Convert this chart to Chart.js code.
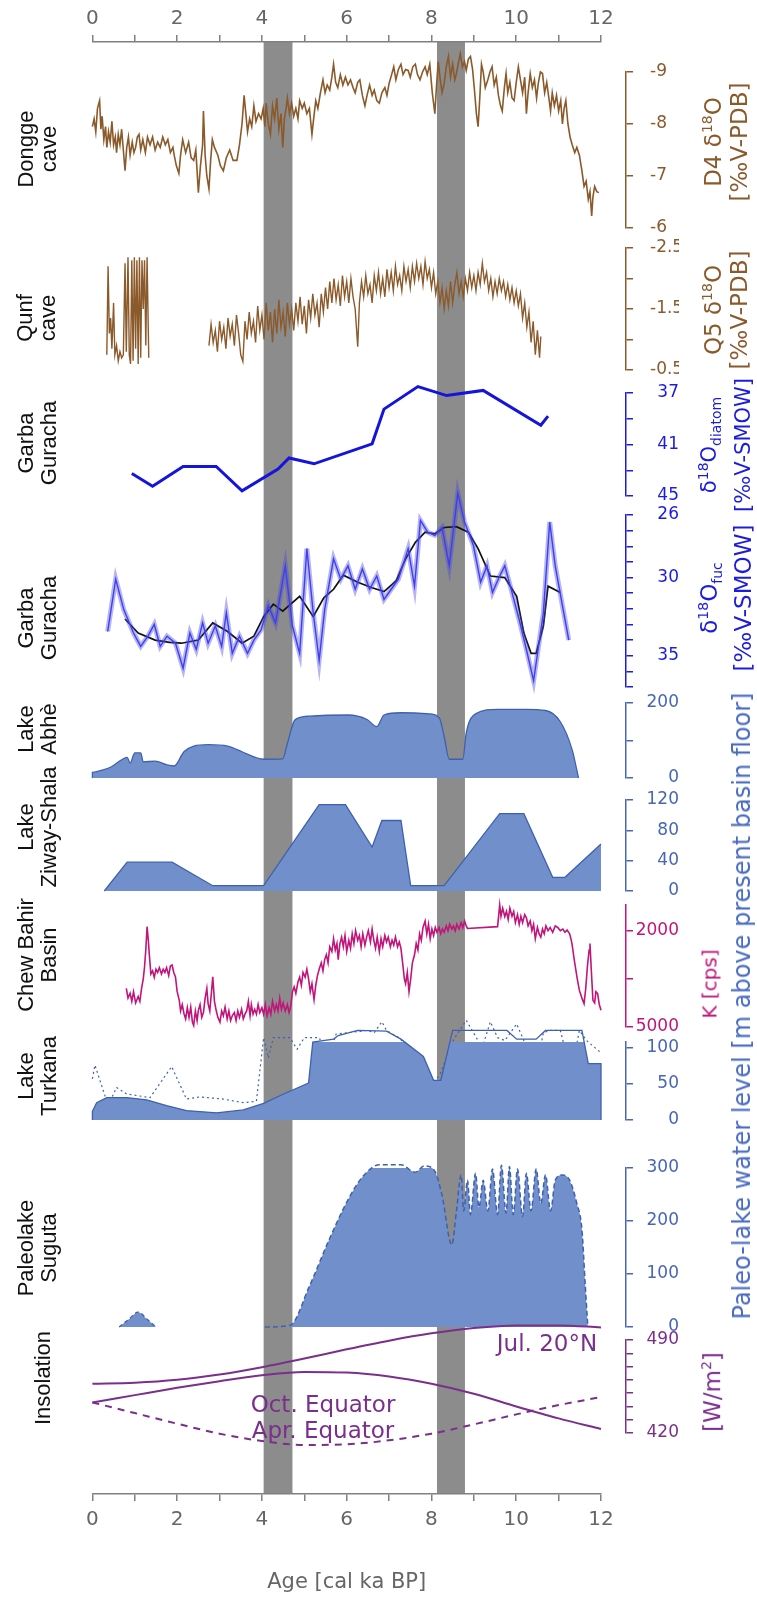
<!DOCTYPE html>
<html>
<head>
<meta charset="utf-8">
<script src="https://cdn.jsdelivr.net/npm/chart.js@4.4.0/dist/chart.umd.min.js"></script>
<style>
  body { margin: 0; background: #fff; }
  #wrap { position: relative; width: 757px; height: 1611px; overflow: hidden; }
  #wrap canvas { position: absolute; left: 0; top: 0; }
  .lbl { position: absolute; transform: translate(-50%, -50%) rotate(-90deg); white-space: nowrap; text-align: center; }
  .left { font-family: 'Liberation Sans', Arial, sans-serif; font-size: 22px; line-height: 23px; color: #111; }
  .right { font-family: 'DejaVu Sans', sans-serif; font-size: 23px; line-height: 26px; }
  .right sup, .right sub { font-size: 14px; }
  .ins { position: absolute; font-family: 'DejaVu Sans', sans-serif; font-size: 23px; color: #7a2f8c; transform: translate(-50%, -50%); white-space: nowrap; }
</style>
</head>
<body>
<div id="wrap"></div>
<script>
// ---- data (age in cal ka BP, value) ----
const ageTicks = [0,1,2,3,4,5,6,7,8,9,10,11,12];
const ageLabels = [0,2,4,6,8,10,12];
const bands = [[4.04, 4.72], [8.13, 8.79]];

const dongge = [[0,-7.95],[0.04,-8.1],[0.08,-7.85],[0.12,-8.3],[0.17,-8.45],[0.2,-7.9],[0.23,-8.15],[0.27,-7.7],[0.31,-7.95],[0.34,-7.55],[0.38,-7.85],[0.42,-7.65],[0.46,-8.05],[0.5,-7.6],[0.54,-7.75],[0.57,-7.45],[0.61,-7.8],[0.65,-7.6],[0.69,-7.9],[0.73,-7.5],[0.77,-7.1],[0.81,-7.55],[0.85,-7.75],[0.89,-7.4],[0.94,-7.65],[0.98,-7.45],[1.02,-7.55],[1.06,-7.75],[1.1,-7.8],[1.14,-7.5],[1.19,-7.7],[1.25,-7.45],[1.3,-7.75],[1.36,-7.6],[1.42,-7.75],[1.48,-7.5],[1.54,-7.65],[1.6,-7.55],[1.66,-7.75],[1.72,-7.6],[1.78,-7.7],[1.84,-7.45],[1.9,-7.55],[1.93,-7.4],[1.98,-7.2],[2.04,-7.05],[2.08,-7.4],[2.13,-7.7],[2.2,-7.45],[2.27,-7.65],[2.33,-7.35],[2.39,-7.3],[2.44,-7.5],[2.5,-6.68],[2.55,-7.2],[2.6,-7.6],[2.62,-8.25],[2.66,-7.4],[2.7,-7.0],[2.75,-6.75],[2.79,-7.3],[2.83,-7.7],[2.88,-7.55],[2.96,-7.4],[3.02,-7.2],[3.09,-7.1],[3.16,-7.35],[3.24,-7.5],[3.32,-7.3],[3.41,-7.3],[3.47,-7.6],[3.53,-8.0],[3.58,-8.55],[3.62,-8.2],[3.66,-7.85],[3.71,-8.1],[3.76,-7.95],[3.81,-8.35],[3.86,-8.05],[3.92,-8.2],[3.98,-8.1],[4.03,-8.3],[4.07,-7.95],[4.1,-8.4],[4.15,-8.0],[4.2,-7.8],[4.25,-8.35],[4.3,-8.1],[4.35,-8.5],[4.4,-7.9],[4.45,-8.2],[4.49,-7.55],[4.53,-8.1],[4.57,-8.3],[4.6,-8.5],[4.65,-8.2],[4.7,-8.4],[4.75,-8.15],[4.8,-8.3],[4.85,-8.1],[4.89,-8.45],[4.95,-8.3],[5.0,-8.4],[5.06,-8.2],[5.12,-8.3],[5.18,-7.8],[5.22,-8.1],[5.27,-8.45],[5.32,-8.3],[5.38,-8.6],[5.44,-8.85],[5.49,-8.6],[5.54,-8.75],[5.6,-8.65],[5.65,-8.9],[5.69,-9.15],[5.74,-8.8],[5.79,-8.7],[5.85,-8.95],[5.91,-8.75],[5.97,-8.9],[6.03,-8.75],[6.09,-8.85],[6.15,-8.7],[6.2,-8.6],[6.26,-8.8],[6.31,-8.85],[6.37,-8.55],[6.43,-8.35],[6.48,-8.55],[6.54,-8.75],[6.6,-8.55],[6.65,-8.65],[6.71,-8.45],[6.77,-8.4],[6.83,-8.6],[6.9,-8.7],[6.95,-8.55],[7.0,-8.78],[7.06,-8.95],[7.11,-9.1],[7.16,-8.85],[7.22,-9.05],[7.28,-9.15],[7.33,-8.95],[7.39,-9.05],[7.45,-9.03],[7.5,-8.9],[7.56,-9.1],[7.62,-9.15],[7.67,-8.95],[7.73,-8.85],[7.79,-9.0],[7.85,-9.1],[7.9,-8.95],[7.96,-9.15],[8.02,-8.6],[8.08,-8.2],[8.12,-8.75],[8.16,-9.2],[8.2,-8.9],[8.25,-8.6],[8.3,-8.78],[8.35,-9.1],[8.4,-9.3],[8.45,-8.9],[8.5,-9.15],[8.55,-8.85],[8.59,-8.97],[8.64,-9.2],[8.68,-9.35],[8.73,-9.1],[8.78,-9.2],[8.82,-9.03],[8.87,-9.25],[8.92,-9.3],[8.97,-9.05],[9.02,-8.6],[9.06,-8.2],[9.1,-7.95],[9.14,-8.5],[9.18,-9.15],[9.22,-9.0],[9.27,-8.7],[9.33,-8.85],[9.38,-9.0],[9.43,-9.1],[9.48,-8.75],[9.53,-8.9],[9.58,-8.55],[9.63,-8.35],[9.67,-8.25],[9.72,-8.7],[9.76,-8.97],[9.8,-8.6],[9.85,-8.8],[9.9,-8.5],[9.95,-8.45],[10.0,-8.8],[10.05,-9.1],[10.1,-8.85],[10.15,-8.6],[10.2,-8.9],[10.24,-8.2],[10.28,-8.6],[10.33,-8.97],[10.38,-8.7],[10.43,-8.85],[10.48,-8.5],[10.52,-8.78],[10.57,-9.0],[10.62,-8.97],[10.67,-8.6],[10.72,-8.8],[10.77,-8.5],[10.81,-8.25],[10.85,-8.6],[10.9,-8.35],[10.95,-8.55],[11.0,-8.25],[11.05,-8.45],[11.09,-8.0],[11.13,-8.3],[11.17,-8.45],[11.22,-8.0],[11.27,-7.75],[11.32,-7.6],[11.38,-7.45],[11.43,-7.55],[11.49,-7.4],[11.55,-7.1],[11.6,-6.8],[11.65,-6.9],[11.7,-6.55],[11.74,-6.7],[11.78,-6.23],[11.81,-6.6],[11.85,-6.8],[11.9,-6.7],[11.95,-6.68]];
const donggeTicks = [-9,-8,-7,-6];
const donggeLabels = [-9,-8,-7,-6];

const qunf = [[0.34,-0.75],[0.37,-2.2],[0.4,-1.1],[0.43,-1.35],[0.46,-0.85],[0.5,-1.6],[0.53,-0.75],[0.57,-0.9],[0.61,-0.65],[0.65,-0.8],[0.69,-0.7],[0.73,-0.75],[0.77,-2.25],[0.8,-0.8],[0.84,-2.35],[0.87,-0.75],[0.9,-0.6],[0.93,-2.3],[0.96,-0.65],[0.99,-2.35],[1.02,-0.85],[1.05,-2.3],[1.08,-0.6],[1.11,-2.35],[1.14,-0.7],[1.17,-2.3],[1.2,-1.5],[1.23,-2.3],[1.26,-0.9],[1.29,-2.35],[1.33,-0.7],[2.0,null],
[2.75,-0.9],[2.8,-1.25],[2.85,-0.95],[2.9,-1.15],[2.95,-0.8],[3.0,-1.3],[3.05,-1.0],[3.1,-1.2],[3.15,-0.85],[3.2,-1.35],[3.25,-1.05],[3.3,-1.25],[3.35,-0.9],[3.4,-1.4],[3.45,-1.1],[3.5,-0.75],[3.55,-0.64],[3.6,-1.3],[3.65,-1.0],[3.7,-1.45],[3.75,-1.1],[3.8,-1.3],[3.85,-0.95],[3.9,-1.55],[3.95,-1.15],[4.0,-1.4],[4.05,-1.0],[4.1,-1.6],[4.15,-1.15],[4.2,-1.45],[4.25,-0.95],[4.3,-1.5],[4.35,-1.1],[4.4,-1.65],[4.45,-1.2],[4.5,-1.45],[4.55,-1.05],[4.6,-1.6],[4.65,-1.25],[4.7,-1.5],[4.75,-1.15],[4.8,-1.6],[4.85,-1.3],[4.9,-1.7],[4.95,-1.25],[5.0,-1.55],[5.05,-1.1],[5.1,-1.65],[5.15,-1.35],[5.2,-1.75],[5.25,-1.4],[5.3,-1.6],[5.35,-1.2],[5.4,-1.75],[5.45,-1.45],[5.5,-1.85],[5.55,-1.5],[5.6,-1.95],[5.65,-1.6],[5.7,-2.0],[5.75,-1.65],[5.8,-1.9],[5.85,-1.55],[5.9,-2.05],[5.95,-1.7],[6.0,-1.95],[6.05,-1.6],[6.1,-2.0],[6.15,-1.7],[6.2,-1.5],[6.26,-0.88],[6.3,-1.6],[6.35,-1.95],[6.4,-1.7],[6.45,-2.05],[6.5,-1.75],[6.55,-1.9],[6.6,-1.6],[6.65,-2.05],[6.7,-1.8],[6.75,-2.1],[6.8,-1.75],[6.85,-2.0],[6.9,-1.7],[6.95,-2.15],[7.0,-1.85],[7.05,-2.1],[7.1,-1.8],[7.15,-2.2],[7.2,-1.9],[7.25,-2.05],[7.3,-1.8],[7.35,-2.2],[7.4,-1.95],[7.45,-2.15],[7.5,-1.85],[7.55,-2.2],[7.6,-1.95],[7.65,-2.25],[7.7,-2.0],[7.75,-2.2],[7.8,-1.9],[7.85,-2.28],[7.9,-2.0],[7.95,-2.15],[8.0,-1.85],[8.05,-2.1],[8.1,-1.75],[8.15,-1.95],[8.2,-1.6],[8.25,-1.85],[8.3,-1.5],[8.35,-1.8],[8.4,-1.55],[8.45,-1.95],[8.5,-1.6],[8.55,-1.9],[8.6,-2.1],[8.65,-1.75],[8.7,-1.95],[8.75,-1.7],[8.8,-2.0],[8.85,-1.8],[8.9,-2.1],[8.95,-1.85],[9.0,-2.05],[9.05,-1.8],[9.1,-2.1],[9.15,-1.9],[9.2,-2.25],[9.25,-1.95],[9.3,-2.1],[9.35,-1.8],[9.4,-2.0],[9.45,-1.7],[9.5,-1.95],[9.55,-1.75],[9.6,-2.0],[9.65,-1.8],[9.7,-1.95],[9.75,-1.7],[9.8,-1.9],[9.85,-1.65],[9.9,-1.85],[9.95,-1.6],[10.0,-1.8],[10.05,-1.55],[10.1,-1.75],[10.15,-1.35],[10.2,-1.6],[10.25,-1.2],[10.3,-1.45],[10.35,-0.95],[10.4,-1.3],[10.45,-0.75],[10.5,-1.15],[10.55,-0.7],[10.58,-1.05]];
const qunfTicks = [-2.5,-2,-1.5,-1,-0.5];
const qunfLabels = [-2.5,-1.5,-0.5];

const diatom = [[0.93,43.25],[1.42,44.25],[2.14,42.7],[2.92,42.7],[3.53,44.6],[4.38,42.9],[4.64,42.05],[5.23,42.5],[6.6,40.95],[6.88,38.25],[7.68,36.5],[8.36,37.2],[9.22,36.8],[10.58,39.5],[10.75,38.8]];
const diatomTicks = [37,39,41,43,45];
const diatomLabels = [37,41,45];

const fuc = [[0.36,33.45],[0.55,30.1],[0.74,32.05],[0.97,33.55],[1.14,34.4],[1.31,33.75],[1.46,33.0],[1.6,34.4],[1.76,33.75],[1.96,34.2],[2.14,35.8],[2.3,33.55],[2.45,34.6],[2.6,32.9],[2.73,34.2],[2.9,33.1],[3.05,34.4],[3.16,32.25],[3.3,34.85],[3.47,33.75],[3.66,34.85],[3.81,34.0],[3.98,33.35],[4.15,31.8],[4.32,32.9],[4.55,29.25],[4.72,33.1],[4.89,34.85],[5.06,28.15],[5.21,32.25],[5.35,35.3],[5.48,32.05],[5.69,28.8],[5.86,30.1],[6.03,29.25],[6.2,30.75],[6.37,29.45],[6.54,30.75],[6.71,29.9],[6.88,31.4],[7.05,30.75],[7.22,30.1],[7.45,28.15],[7.6,30.55],[7.74,26.35],[7.91,27.1],[8.08,27.3],[8.25,26.8],[8.42,29.25],[8.62,24.6],[8.78,26.45],[8.99,27.95],[9.16,30.3],[9.31,29.25],[9.44,30.95],[9.61,29.9],[9.73,29.25],[9.9,30.95],[10.07,32.7],[10.24,34.6],[10.41,36.6],[10.64,32.25],[10.79,26.45],[10.92,29.25],[11.09,31.8],[11.24,34.0]];
const fucSmooth = [[0.77,32.65],[1.08,33.55],[1.48,34.0],[1.82,34.15],[2.1,34.2],[2.5,34.0],[2.84,32.9],[3.19,33.45],[3.53,34.2],[3.81,33.75],[4.04,32.5],[4.27,31.7],[4.49,32.15],[4.89,31.2],[5.21,32.5],[5.46,31.3],[5.69,30.75],[5.92,29.85],[6.26,30.3],[6.6,30.65],[6.88,30.9],[7.17,30.2],[7.39,28.8],[7.62,27.75],[7.85,27.1],[8.08,27.2],[8.3,26.8],[8.59,26.75],[8.87,27.1],[9.1,28.15],[9.39,29.9],[9.73,30.0],[10.01,31.2],[10.18,33.55],[10.35,34.85],[10.47,34.85],[10.64,33.1],[10.75,30.55],[11.04,30.95]];
const fucTicks = [26,27,28,29,30,31,32,33,34,35,36,37];
const fucLabels = [26,30,35];

const abhe = [[0,0],[0,15],[0.23,21],[0.45,30],[0.68,48],[0.82,55],[0.89,40],[1.0,67],[1.14,67],[1.2,43],[1.48,45],[1.76,35],[1.93,32],[2.16,70],[2.39,85],[2.73,89],[3.19,85],[3.53,70],[3.87,54],[4.04,50],[4.49,51],[4.6,92],[4.78,155],[5.12,165],[6.03,168],[6.48,156],[6.71,137],[6.88,168],[7.28,174],[7.96,171],[8.19,159],[8.3,110],[8.42,50],[8.74,50],[8.82,120],[9.04,171],[9.56,183],[10.24,183],[10.69,180],[11.04,150],[11.32,75],[11.47,0]];
const abheTicks = [0,100,200];
const abheLabels = [0,200];

const ziway = [[0.28,0],[0.82,38],[1.88,38],[2.84,7],[4.04,7],[5.35,114],[5.97,114],[6.6,58],[6.83,93],[7.28,93],[7.51,7],[8.3,7],[9.61,102],[10.18,102],[10.86,18],[11.15,18],[12.0,62]];
const ziwayTicks = [0,40,80,120];
const ziwayLabels = [0,40,80,120];

const chew = [[0.8,3800],[0.84,4100],[0.89,3950],[0.93,4200],[0.97,3900],[1.02,4250],[1.08,4050],[1.12,4200],[1.16,3800],[1.2,3500],[1.23,3130],[1.26,2600],[1.29,1875],[1.32,2300],[1.34,2700],[1.38,3350],[1.42,3250],[1.46,3450],[1.5,3200],[1.54,3300],[1.58,3150],[1.63,3350],[1.67,3200],[1.71,3300],[1.75,3150],[1.8,3400],[1.84,3100],[1.88,3070],[1.92,3300],[1.96,3440],[2.0,3900],[2.05,4170],[2.08,4500],[2.12,4300],[2.16,4580],[2.2,4750],[2.24,4400],[2.28,4700],[2.32,4380],[2.36,4850],[2.39,4950],[2.43,4500],[2.47,4800],[2.5,4480],[2.54,4300],[2.58,4700],[2.62,4550],[2.66,4100],[2.7,3800],[2.73,4270],[2.77,4500],[2.81,3900],[2.84,3440],[2.88,4200],[2.92,4480],[2.96,4700],[3.01,4850],[3.05,4500],[3.09,4650],[3.13,4380],[3.18,4750],[3.22,4500],[3.26,4800],[3.3,4650],[3.35,4550],[3.39,4800],[3.43,4500],[3.47,4700],[3.52,4450],[3.56,4750],[3.6,4600],[3.64,4500],[3.68,4200],[3.72,4650],[3.75,4300],[3.79,4600],[3.83,4450],[3.87,4600],[3.91,4300],[3.95,4550],[4.0,4400],[4.04,4600],[4.08,4300],[4.12,4650],[4.17,4400],[4.21,4600],[4.25,4200],[4.3,4500],[4.34,4300],[4.38,4500],[4.42,4100],[4.46,4450],[4.5,4250],[4.55,4500],[4.6,4300],[4.64,4550],[4.68,4350],[4.72,3900],[4.76,3750],[4.8,3950],[4.85,3600],[4.89,3450],[4.93,3700],[4.97,3300],[5.02,3450],[5.06,3200],[5.1,3500],[5.14,3900],[5.18,3650],[5.23,4150],[5.27,3700],[5.31,3400],[5.35,3200],[5.4,3000],[5.44,3250],[5.48,2900],[5.52,2750],[5.56,3000],[5.6,2500],[5.65,2650],[5.69,2250],[5.73,2600],[5.77,2400],[5.8,2900],[5.84,2400],[5.88,2200],[5.92,2500],[5.96,2150],[6.0,2650],[6.05,2300],[6.09,2550],[6.13,2100],[6.17,2400],[6.21,2000],[6.26,2300],[6.3,2150],[6.34,2500],[6.38,2100],[6.43,2450],[6.47,2200],[6.51,2000],[6.56,2350],[6.6,1950],[6.64,2300],[6.68,2550],[6.72,2200],[6.77,2650],[6.81,2250],[6.85,2500],[6.9,2150],[6.94,2350],[6.98,2200],[7.03,2500],[7.07,2300],[7.11,2450],[7.15,2200],[7.2,2500],[7.24,2350],[7.28,2550],[7.32,3000],[7.36,3500],[7.39,3650],[7.43,3300],[7.47,3900],[7.51,3500],[7.55,3000],[7.6,2750],[7.64,2400],[7.68,2600],[7.72,2100],[7.76,2300],[7.8,1900],[7.85,1700],[7.89,2100],[7.93,1800],[7.97,2250],[8.01,1950],[8.05,2150],[8.09,1900],[8.13,2050],[8.18,1900],[8.22,2100],[8.26,1950],[8.3,2050],[8.35,1850],[8.39,2000],[8.43,1800],[8.48,1950],[8.52,1850],[8.56,2000],[8.6,1800],[8.65,1950],[8.7,1750],[8.74,1900],[8.78,1700],[8.82,1850],[8.85,1930],[9.56,1875],[9.61,1200],[9.64,1550],[9.68,1300],[9.73,1560],[9.77,1400],[9.81,1650],[9.85,1300],[9.9,1550],[9.94,1400],[9.98,1750],[10.03,1500],[10.07,1800],[10.11,1550],[10.15,1750],[10.2,1500],[10.24,1600],[10.28,1850],[10.33,1700],[10.37,2000],[10.41,1800],[10.45,2250],[10.5,1900],[10.54,2100],[10.58,2200],[10.62,1950],[10.66,2100],[10.7,1850],[10.75,2000],[10.8,1900],[10.86,2050],[10.92,1850],[10.98,1900],[11.04,2000],[11.1,1950],[11.15,2050],[11.2,1980],[11.26,2100],[11.3,2300],[11.32,2450],[11.38,3000],[11.44,3500],[11.49,3860],[11.55,4100],[11.6,4270],[11.64,3800],[11.68,3100],[11.72,2600],[11.74,2400],[11.77,3200],[11.81,4170],[11.85,4250],[11.88,3900],[11.92,3960],[11.96,4300],[12.0,4480]];
const chewTicks = [2000,3500,5000];
const chewLabels = [2000,5000];

const turkana = [[0,0],[0,12],[0.1,24],[0.34,31],[0.81,31],[1.28,28],[1.75,20],[2.22,13],[2.93,10],[3.56,14],[4.04,23],[4.51,36],[5.1,51],[5.2,108],[5.69,112],[5.8,117],[6.26,124],[6.94,123],[7.28,112],[7.81,88],[8.05,55],[8.22,55],[8.5,124],[9.78,124],[10.01,112],[10.47,112],[10.69,124],[11.55,124],[11.7,78],[12.0,78],[12.0,0]];
const turkanaDotted = [[0,57],[0.06,76],[0.3,33],[0.38,21],[0.57,45],[0.81,36],[1.36,31],[1.87,74],[2.22,29],[2.53,32],[3.08,29],[3.56,24],[3.87,26],[4.04,114],[4.15,86],[4.27,114],[4.66,114],[4.83,98],[5.0,114],[5.35,114],[5.57,86],[5.75,119],[6.48,124],[6.65,121],[6.83,136],[6.94,124],[7.28,112],[7.74,33],[8.19,62],[8.53,112],[8.82,138],[9.1,110],[9.18,97],[9.39,136],[9.56,114],[9.73,110],[10.01,133],[10.18,110],[10.48,72],[10.64,121],[10.81,124],[11.04,124],[11.3,65],[11.49,124],[11.66,110],[12.0,93]];
const turkanaTicks = [0,50,100];
const turkanaLabels = [0,50,100];

const sugutaBump = [[0.63,0],[0.85,14],[1.08,28],[1.3,14],[1.5,0]];
const suguta = [[4.07,0],[4.66,3],[5.12,77],[5.57,162],[6.03,240],[6.37,283],[6.77,306],[7.28,306],[7.62,292],[7.83,304],[8.08,294],[8.25,248],[8.48,155],[8.59,219],[8.70,287],[8.76,219],[8.85,277],[8.92,212],[9.04,290],[9.12,226],[9.22,277],[9.33,219],[9.44,298],[9.56,212],[9.65,305],[9.76,215],[9.84,303],[9.93,212],[10.03,298],[10.15,208],[10.24,290],[10.35,219],[10.47,298],[10.58,233],[10.69,287],[10.81,219],[10.92,277],[11.09,287],[11.26,277],[11.43,233],[11.55,184],[11.63,77],[11.69,0]];
const sugutaTicks = [0,100,200,300];
const sugutaLabels = [0,100,200,300];

const julN20 = [[0,457],[1,457.8],[2,460],[3,464],[4,469.5],[5,476],[6,483],[7,489.5],[8,495],[9,499],[10,501],[11,501],[12,499.5]];
const octEq = [[0,443],[1,448.5],[2,454],[3,459],[4,463.5],[5,466],[6,465.5],[7,462.5],[8,457],[9,449.5],[10,440],[11,431],[12,423]];
const aprEq = [[0,443],[1,435],[2,427],[3,419.5],[4,414],[5,411],[6,411.5],[7,414.5],[8,419.5],[9,426.5],[10,434],[11,441],[12,447]];
const insTicks = [420,430,440,450,460,470,480,490];
const insLabels = [420,490];

// ---- layout ----
const W = 757, H = 1611;
const X0 = 92.4, X12 = 601, AXIS_X = 626, LABEL_RIGHT = 679, X_AXIS_Y = 1494;
const XMAX = (AXIS_X - X0) / ((X12 - X0) / 12);
const wrap = document.getElementById('wrap');

const BROWN = '#8b5a2b', BLUE = '#1c1cdc', LAKE = '#4866b5', FILL = '#7190cb', EDGE = '#3f60b0',
      MAGENTA = '#c0157a', PURPLE = '#7a2f8c';

const pts = arr => arr.map(p => ({x: p[0], y: p[1]}));

function newCanvas() {
  const c = document.createElement('canvas');
  c.width = W; c.height = H;
  c.style.width = W + 'px'; c.style.height = H + 'px';
  wrap.appendChild(c);
  return c;
}

const bandPlugin = {
  id: 'bands',
  beforeDraw(chart) {
    const {ctx, chartArea, scales} = chart;
    ctx.save();
    ctx.fillStyle = '#8c8c8c';
    bands.forEach(b => {
      const a = scales.x.getPixelForValue(b[0]);
      const z = scales.x.getPixelForValue(b[1]);
      ctx.fillRect(a, chartArea.top, z - a, chartArea.bottom - chartArea.top);
    });
    ctx.restore();
  }
};

const ageAxis = (pos, height) => ({
  type: 'linear', position: pos, min: 0, max: 12,
  afterFit: s => { s.height = height; },
  afterBuildTicks: s => { s.ticks = ageTicks.map(v => ({value: v})); },
  border: {display: true, color: '#808080', width: 1.5},
  grid: {drawOnChartArea: false, drawTicks: true, tickLength: 7, color: '#808080', lineWidth: 1.5},
  ticks: {color: '#666', font: {family: 'DejaVu Sans', size: 20}, padding: pos === 'bottom' ? 7 : 4, autoSkip: false, maxRotation: 0,
          callback: v => ageLabels.includes(v) ? String(v) : ''},
  title: pos === 'bottom' ? {display: true, text: 'Age [cal ka BP]', color: '#666',
          font: {family: 'DejaVu Sans', size: 21}, padding: {top: 0, bottom: 16}} : {display: false}
});

new Chart(newCanvas(), {
  type: 'line',
  data: {datasets: []},
  options: {
    responsive: false, animation: false, devicePixelRatio: 1,
    layout: {padding: {left: X0, right: W - X12, top: 0, bottom: 0}},
    plugins: {legend: {display: false}, tooltip: {enabled: false}},
    scales: {
      x: ageAxis('bottom', H - X_AXIS_Y),
      xTop: ageAxis('top', 42),
      y: {display: false, min: 0, max: 1}
    }
  },
  plugins: [bandPlugin]
});

function panel(cfg) {
  const tickLen = 7;
  const near = cfg.align === 'near';
  new Chart(newCanvas(), {
    type: 'line',
    data: {datasets: cfg.datasets.map(d => Object.assign({pointRadius: 0, clip: false, tension: 0, fill: false}, d))},
    options: {
      responsive: false, animation: false, devicePixelRatio: 1,
      layout: {padding: {left: X0, right: W - LABEL_RIGHT, top: cfg.top, bottom: H - cfg.bottom}},
      plugins: {legend: {display: false}, tooltip: {enabled: false}},
      scales: {
        x: {type: 'linear', min: 0, max: XMAX, display: false},
        y: {
          position: 'right', min: cfg.min, max: cfg.max, reverse: !!cfg.reverse,
          afterFit: s => { s.width = LABEL_RIGHT - AXIS_X; },
          afterBuildTicks: s => { s.ticks = cfg.ticks.map(v => ({value: v})); },
          border: {display: true, color: cfg.color, width: 1.5},
          grid: {drawOnChartArea: false, drawTicks: true, tickLength: tickLen, color: cfg.color, lineWidth: 1.5},
          ticks: {color: cfg.color, font: {family: 'DejaVu Sans', size: 17}, padding: near ? 17 : 4,
                  crossAlign: near ? 'near' : 'far', autoSkip: false,
                  callback: v => cfg.labels.includes(v) ? String(v) : ''}
        }
      }
    }
  });
}

panel({top: 72, bottom: 228, min: -9, max: -6, reverse: true, color: BROWN, align: 'near', ticks: donggeTicks, labels: donggeLabels,
  datasets: [{data: pts(dongge), borderColor: BROWN, borderWidth: 1.6}]});

panel({top: 248, bottom: 370, min: -2.5, max: -0.5, reverse: true, color: BROWN, align: 'near', ticks: qunfTicks, labels: qunfLabels,
  datasets: [{data: pts(qunf), borderColor: BROWN, borderWidth: 1.4}]});

panel({top: 393, bottom: 496, min: 37, max: 45, reverse: true, color: BLUE, ticks: diatomTicks, labels: diatomLabels,
  datasets: [{data: pts(diatom), borderColor: '#1414dc', borderWidth: 3}]});

panel({top: 515, bottom: 687, min: 26, max: 37, reverse: true, color: BLUE, ticks: fucTicks, labels: fucLabels,
  datasets: [
    {data: pts(fuc), borderColor: 'rgba(70,70,230,0.4)', borderWidth: 5},
    {data: pts(fuc), borderColor: '#3b3bef', borderWidth: 1.4},
    {data: pts(fucSmooth), borderColor: '#111', borderWidth: 1.7}
  ]});

panel({top: 703, bottom: 778, min: 0, max: 200, color: LAKE, ticks: abheTicks, labels: abheLabels,
  datasets: [{data: pts(abhe), borderColor: EDGE, borderWidth: 1.3, backgroundColor: FILL, fill: 'origin', cubicInterpolationMode: 'monotone'}]});

panel({top: 800, bottom: 891, min: 0, max: 120, color: LAKE, ticks: ziwayTicks, labels: ziwayLabels,
  datasets: [{data: pts(ziway), borderColor: EDGE, borderWidth: 1.3, backgroundColor: FILL, fill: 'origin'}]});

panel({top: 905, bottom: 1027, min: 1200, max: 5000, reverse: true, color: MAGENTA, ticks: chewTicks, labels: chewLabels,
  datasets: [{data: pts(chew), borderColor: MAGENTA, borderWidth: 1.6}]});

panel({top: 1042, bottom: 1120, min: 0, max: 108, color: LAKE, ticks: turkanaTicks, labels: turkanaLabels,
  datasets: [
    {data: pts(turkana), borderColor: EDGE, borderWidth: 1.3, backgroundColor: FILL, fill: 'origin'},
    {data: pts(turkanaDotted), borderColor: '#3f60b0', borderWidth: 1.2, borderDash: [2, 3]}
  ]});

panel({top: 1168, bottom: 1327, min: 0, max: 300, color: LAKE, ticks: sugutaTicks, labels: sugutaLabels,
  datasets: [
    {data: pts(sugutaBump), borderColor: EDGE, borderWidth: 1.3, borderDash: [4, 3], backgroundColor: FILL, fill: 'origin', cubicInterpolationMode: 'monotone'},
    {data: pts(suguta), borderColor: EDGE, borderWidth: 1.5, borderDash: [5, 3], backgroundColor: FILL, fill: 'origin', cubicInterpolationMode: 'monotone'}
  ]});

panel({top: 1340, bottom: 1433, min: 420, max: 490, color: PURPLE, ticks: insTicks, labels: insLabels,
  datasets: [
    {data: pts(julN20), borderColor: PURPLE, borderWidth: 2, cubicInterpolationMode: 'monotone'},
    {data: pts(octEq), borderColor: PURPLE, borderWidth: 2, cubicInterpolationMode: 'monotone'},
    {data: pts(aprEq), borderColor: PURPLE, borderWidth: 2, borderDash: [7, 6], cubicInterpolationMode: 'monotone'}
  ]});

// ---- text labels ----
function label(cls, x, y, html, color) {
  const d = document.createElement('div');
  d.className = cls;
  d.style.left = x + 'px';
  d.style.top = y + 'px';
  if (color) d.style.color = color;
  d.innerHTML = html;
  wrap.appendChild(d);
}

[
  [37, 149, 'Dongge<br>cave'],
  [36, 318, 'Qunf<br>cave'],
  [37, 443, 'Garba<br>Guracha'],
  [37, 618, 'Garba<br>Guracha'],
  [37, 729, 'Lake<br>Abhè'],
  [37, 827, 'Lake<br>Ziway-Shala'],
  [37, 955, 'Chew Bahir<br>Basin'],
  [37, 1076, 'Lake<br>Turkana'],
  [37, 1248, 'Paleolake<br>Suguta'],
  [42, 1378, 'Insolation']
].forEach(l => label('lbl left', l[0], l[1], l[2]));

[
  [723, 142, 'D4 δ<sup>18</sup>O<br>[‰V-PDB]', BROWN],
  [723, 310, 'Q5 δ<sup>18</sup>O<br>[‰V-PDB]', BROWN],
  [723, 445, '<span style="font-size:21px">δ<sup>18</sup>O<sub>diatom</sub><br>[‰V-SMOW]</span>', BLUE],
  [723, 598, 'δ<sup>18</sup>O<sub>fuc</sub><br>[‰V-SMOW]', BLUE],
  [709, 984, '<span style="font-size:20px">K [cps]</span>', MAGENTA],
  [742, 1006, '<span style="font-size:24px">Paleo-lake water level [m above present basin floor]</span>', '#4a6cc0'],
  [709, 1392, '[W/m<sup>2</sup>]', PURPLE]
].forEach(l => label('lbl right', l[0], l[1], l[2], l[3]));

label('ins', 547, 1343, 'Jul. 20°N');
label('ins', 323, 1404, 'Oct. Equator');
label('ins', 323, 1430, 'Apr. Equator');
</script>
</body>
</html>
